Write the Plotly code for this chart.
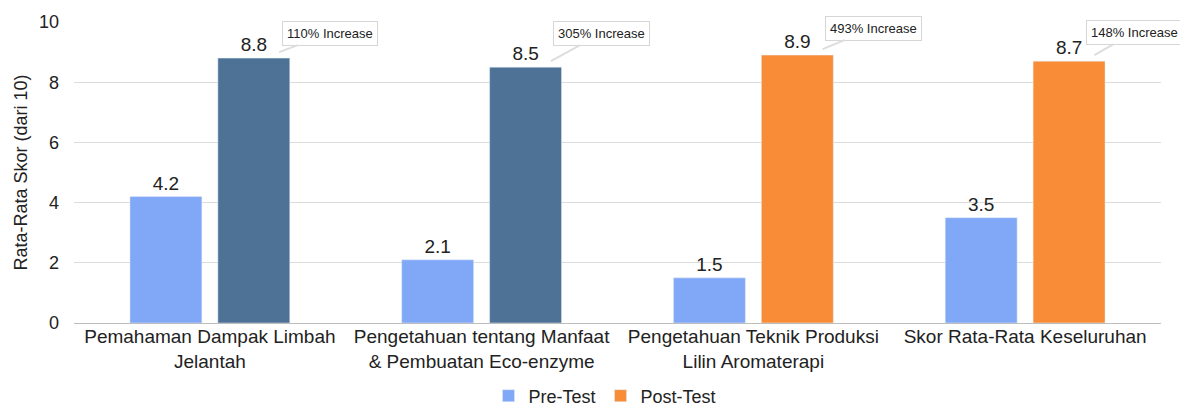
import plotly.graph_objects as go

categories = [
    "Pemahaman Dampak Limbah<br>Jelantah",
    "Pengetahuan tentang Manfaat<br>& Pembuatan Eco-enzyme",
    "Pengetahuan Teknik Produksi<br>Lilin Aromaterapi",
    "Skor Rata-Rata Keseluruhan",
]
pre_test = [4.2, 2.1, 1.5, 3.5]
post_test = [8.8, 8.5, 8.9, 8.7]
increase_labels = ["110% Increase", "305% Increase", "493% Increase", "148% Increase"]
callout_ax = [51, 51, 51, 40]
callout_ay = [-19, -28, -21, -23]

PRE_COLOR = "#80a8f7"
POST_DARK = "#4d7296"
POST_ORANGE = "#f98c36"
FONT = "Liberation Sans, Arial, sans-serif"

fig = go.Figure()
fig.add_trace(go.Bar(
    x=categories, y=pre_test, name="Pre-Test", offsetgroup="pre",
    marker_color=PRE_COLOR, texttemplate="%{y:.1f}", textposition="outside",
    textfont=dict(size=19, color="#222"), cliponaxis=False,
))
fig.add_trace(go.Bar(
    x=categories[:2], y=post_test[:2], name="Post-Test (dark)", offsetgroup="post",
    marker_color=POST_DARK, texttemplate="%{y:.1f}", textposition="outside",
    textfont=dict(size=19, color="#222"), cliponaxis=False, showlegend=False,
))
fig.add_trace(go.Bar(
    x=categories[2:], y=post_test[2:], name="Post-Test", offsetgroup="post",
    marker_color=POST_ORANGE, texttemplate="%{y:.1f}", textposition="outside",
    textfont=dict(size=19, color="#222"), cliponaxis=False,
))

for i, (v, lab, ax, ay) in enumerate(zip(post_test, increase_labels, callout_ax, callout_ay)):
    fig.add_annotation(
        x=i + 0.255, y=v + 0.2, xref="x", yref="y",
        text=lab, showarrow=True, arrowhead=0, arrowwidth=2, arrowcolor="#dddddd",
        ax=ax, ay=ay, bgcolor="white", bordercolor="#d6d6d6", borderwidth=1,
        borderpad=4, font=dict(family="Liberation Sans Narrow, " + FONT, size=13, color="#222"),
    )

fig.update_layout(
    width=1180, height=407,
    margin=dict(l=74, r=19, t=22, b=84, autoexpand=False),
    paper_bgcolor="white", plot_bgcolor="white",
    barmode="group", bargap=0.353, bargroupgap=0.182,
    font=dict(family=FONT, size=18, color="#222"),
    showlegend=True,
    legend=dict(orientation="h", x=0.4885, xanchor="center", y=-0.2425, yanchor="middle",
                font=dict(size=18, color="#222"), itemwidth=30, traceorder="normal"),
)
fig.update_xaxes(type="category", range=[-0.5, 3.5], tickfont=dict(size=19, color="#222"),
                 showline=False, ticks="", automargin=False)
fig.update_yaxes(range=[0, 10], dtick=2, showgrid=True, gridcolor="#dcdcdc", gridwidth=1,
                 zeroline=True, zerolinecolor="#bdbdbd", zerolinewidth=1,
                 tickfont=dict(size=18, color="#222"), ticklabelstandoff=14, automargin=False,
                 title=dict(text="Rata-Rata Skor (dari 10)", font=dict(size=18, color="#222"), standoff=6))

fig.write_html("out.html", config={"displayModeBar": False},
               post_script="document.body.style.margin='0px';document.body.style.overflow='hidden';")
